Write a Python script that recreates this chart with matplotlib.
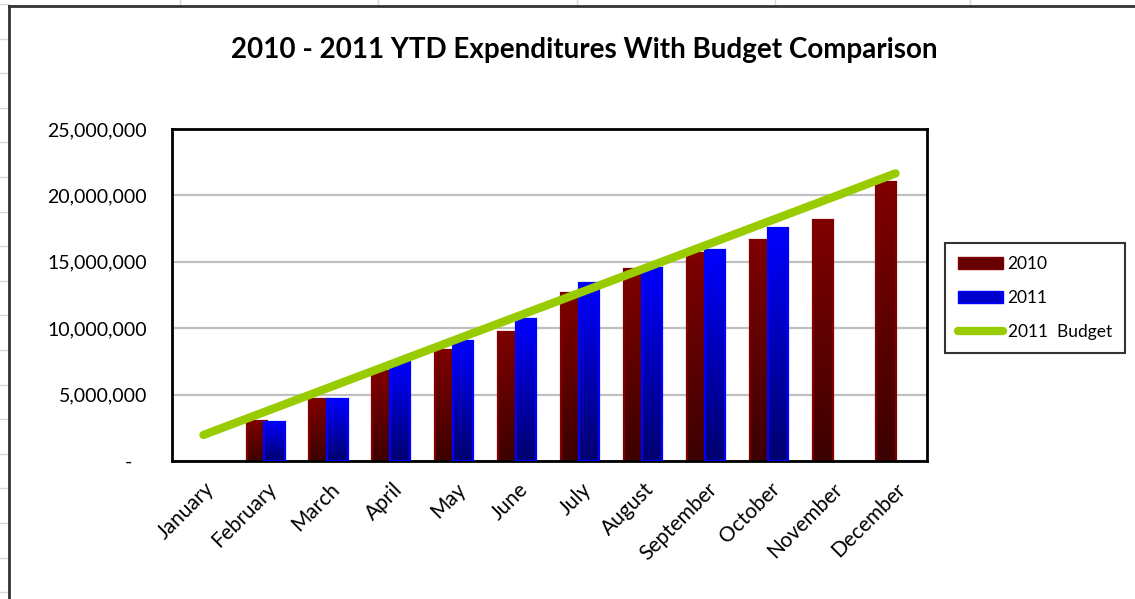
import numpy as np
import matplotlib
matplotlib.use("Agg")
import matplotlib.pyplot as plt
from matplotlib.colors import LinearSegmentedColormap
from matplotlib.lines import Line2D
from matplotlib.patches import Patch
from matplotlib.ticker import FuncFormatter

plt.rcParams['font.family'] = ['Lato', 'DejaVu Sans']

# ---------------------------
# Data
# ---------------------------
months = ['January', 'February', 'March', 'April', 'May', 'June', 'July',
          'August', 'September', 'October', 'November', 'December']
spend_2010 = [np.nan, 3_030_000, 4_640_000, 6_750_000, 8_360_000, 9_740_000,
              12_650_000, 14_430_000, 15_640_000, 16_640_000, 18_120_000, 20_990_000]
spend_2011 = [np.nan, 2_940_000, 4_640_000, 7_450_000, 9_040_000, 10_720_000,
              13_430_000, 14_560_000, 15_870_000, 17_520_000, np.nan, np.nan]
budget_2011 = [1_960_000, 3_750_000, 5_540_000, 7_330_000, 9_120_000, 10_910_000,
               12_700_000, 14_490_000, 16_280_000, 18_070_000, 19_860_000, 21_660_000]
y_ticks = [0, 5_000_000, 10_000_000, 15_000_000, 20_000_000, 25_000_000]

W, H = 1135, 599
red_cmap = LinearSegmentedColormap.from_list('red_grad', ['#3c0000', '#800000'])
blue_cmap = LinearSegmentedColormap.from_list('blue_grad', ['#00006e', '#0000ff'])


def gradient_bars(ax, xs, heights, width, cmap, edge, z):
    """Bars filled with a vertical gradient, dark at the bottom"""
    grad = np.linspace(0, 1, 256).reshape(-1, 1)
    keep_x, keep_h = [], []
    for x, h in zip(xs, heights):
        if np.isnan(h):
            continue
        ax.imshow(grad, cmap=cmap, origin='lower', aspect='auto',
                  extent=(x - width / 2, x + width / 2, 0, h),
                  interpolation='bilinear', zorder=z)
        keep_x.append(x)
        keep_h.append(h)
    ax.bar(keep_x, keep_h, width, facecolor='none', edgecolor=edge,
           linewidth=1.6, zorder=z + 0.1)


fig = plt.figure(figsize=(W / 100, H / 100), dpi=100)
ax = fig.add_axes([172 / W, 1 - 461 / H, (927 - 172) / W, (461 - 129) / H])

x = np.arange(len(months))
bar_w = 0.32
gradient_bars(ax, x - 0.155, spend_2010, bar_w, red_cmap, '#800000', 2)
gradient_bars(ax, x + 0.13, spend_2011, bar_w, blue_cmap, '#0000ff', 2.5)
ax.plot(x, budget_2011, color='#99cc00', lw=6, solid_capstyle='round', zorder=4)

ax.set_xlim(-0.5, len(months) - 0.5)
ax.set_ylim(0, 25_000_000)
ax.set_yticks(y_ticks)
ax.yaxis.set_major_formatter(FuncFormatter(lambda v, p: '-   ' if v == 0 else f'{v:,.0f}'))
ax.yaxis.grid(True, color='#c0c0c0', lw=1.6, zorder=0)
ax.set_axisbelow(True)
ax.set_xticks(x)
ax.set_xticklabels(months, rotation=45, ha='right', va='top', rotation_mode='anchor')
ax.tick_params(axis='y', length=0, pad=18, labelsize=14)
ax.tick_params(axis='x', length=0, pad=13, labelsize=15)
for s in ax.spines.values():
    s.set_linewidth(2)
    s.set_color('black')

fig.text(584 / W, 1 - 50 / H, '2010 - 2011 YTD Expenditures With Budget Comparison',
         ha='center', va='center', fontsize=20, fontweight='bold')

handles = [Patch(facecolor='#660000', edgecolor='#800000'),
           Patch(facecolor='#0000cc', edgecolor='#0000ff'),
           Line2D([], [], color='#99cc00', lw=6, solid_capstyle='round')]
leg = fig.legend(handles, ['2010', '2011', '2011  Budget'], loc='upper left',
                 bbox_to_anchor=(945 / W, 1 - 243 / H), fontsize=12.5,
                 frameon=True, fancybox=False, borderaxespad=0,
                 handlelength=2.6, handletextpad=0.25, labelspacing=1.05,
                 borderpad=0.75)
leg.get_frame().set_edgecolor('black')
leg.get_frame().set_linewidth(1.5)

# spreadsheet cells around the chart object
for yy in np.arange(4, H, 34.6):
    fig.add_artist(Line2D([0, 8 / W], [1 - yy / H] * 2, color='#d0d7e5', lw=1))
for xx in [180, 378, 577, 775, 970]:
    fig.add_artist(Line2D([xx / W] * 2, [1, 1 - 5 / H], color='#d0d7e5', lw=1))
fig.add_artist(Line2D([9 / W, 1], [1 - 6 / H] * 2, color='#333333', lw=2))
fig.add_artist(Line2D([9 / W] * 2, [0, 1 - 6 / H], color='#333333', lw=2))

fig.savefig('out.png', dpi=100)
